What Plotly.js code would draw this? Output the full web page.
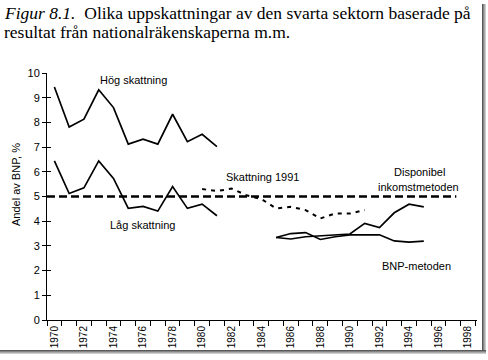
<!DOCTYPE html>
<html>
<head>
<meta charset="utf-8">
<script src="https://cdn.plot.ly/plotly-3.0.1.min.js"></script>
<style>
html,body{margin:0;padding:0;background:#fff;}
#wrap{position:relative;width:488px;height:360px;overflow:hidden;}
#chart{position:absolute;left:0;top:0;width:488px;height:360px;}
#bR{position:absolute;left:482px;top:4px;width:4px;height:350px;background:linear-gradient(to right,#444,#999,#ddd);}
#bB{position:absolute;left:0;top:350px;width:486px;height:4px;background:linear-gradient(to bottom,#444,#999,#ddd);}
</style>
</head>
<body>
<div id="wrap"><div id="chart"></div><div id="bR"></div><div id="bB"></div></div>
<script>
// Data
var yearsHigh = [1970,1971,1972,1973,1974,1975,1976,1977,1978,1979,1980,1981];
var hogSkattning = [9.43,7.81,8.13,9.32,8.6,7.12,7.32,7.12,8.33,7.22,7.52,7.02];
var lagSkattning = [6.44,5.12,5.35,6.44,5.73,4.52,4.6,4.41,5.4,4.52,4.69,4.22];
var years1991 = [1980,1981,1982,1983,1984,1985,1986,1987,1988,1989,1990,1991];
var skattning1991 = [5.3,5.22,5.32,5.05,4.9,4.52,4.58,4.45,4.11,4.31,4.31,4.45];
var dispYears = [1969.5,1997.2];
var dispValues = [5.0,5.0];
var bnpYears = [1985,1986,1987,1988,1989,1990,1991,1992,1993,1994,1995];
var bnpA = [3.34,3.28,3.37,3.4,3.46,3.48,3.91,3.74,4.34,4.69,4.58];
var bnpB = [3.34,3.5,3.54,3.26,3.37,3.45,3.45,3.45,3.2,3.15,3.19];
var xTickVals = [1970,1972,1974,1976,1978,1980,1982,1984,1986,1988,1990,1992,1994,1996,1998];
var xTickText = xTickVals.map(String);

var sans = 'Liberation Sans, Arial, sans-serif';
var serif = 'Liberation Serif, Times New Roman, serif';
var solid = {color:'#000', width:1.7};
var traces = [
  {x:yearsHigh, y:hogSkattning, mode:'lines', line:solid},
  {x:yearsHigh, y:lagSkattning, mode:'lines', line:solid},
  {x:years1991, y:skattning1991, mode:'lines', line:{color:'#000', width:2, dash:'4px,5px'}},
  {x:dispYears, y:dispValues, mode:'lines', line:{color:'#000', width:2.5, dash:'8px,4px'}},
  {x:bnpYears, y:bnpA, mode:'lines', line:solid},
  {x:bnpYears, y:bnpB, mode:'lines', line:solid},
  {x:[1970], y:[0], yaxis:'y2', mode:'markers', marker:{opacity:0}, hoverinfo:'skip'}
];

var L = 47, R = 11, T = 73, B = 40;
var pw = 488 - L - R, ph = 360 - T - B;
function px(x){return (x - L)/pw;}
function py(y){return (360 - B - y)/ph;}

var ann = function(text, x, y, extra){
  return Object.assign({text:text, xref:'paper', yref:'paper', x:px(x), y:py(y), showarrow:false,
    xanchor:'center', yanchor:'middle', font:{family:sans, size:11, color:'#000'}}, extra||{});
};

var layout = {
  width:488, height:360,
  margin:{l:L, r:R, t:T, b:B},
  paper_bgcolor:'#fff', plot_bgcolor:'#fff',
  showlegend:false,
  xaxis:{range:[1969.5,1998.6], tickmode:'array', tickvals:xTickVals, ticktext:xTickText,
    tickangle:-90, ticks:'', ticklabelstandoff:1, showgrid:false, zeroline:false, showline:true, linecolor:'#000', linewidth:1,
    tickfont:{family:sans, size:10, color:'#000'},
    minor:{tickmode:'linear', tick0:1969.5, dtick:1, ticks:'outside', ticklen:5, tickcolor:'#000', tickwidth:1, showgrid:false}},
  yaxis:{range:[0,10], dtick:1, ticks:'outside', ticklen:4, tickcolor:'#000', showgrid:false, zeroline:false,
    showline:true, linecolor:'#000', linewidth:1, tickfont:{family:sans, size:11, color:'#000'}},
  yaxis2:{range:[0,10], dtick:1, overlaying:'y', side:'left', ticks:'inside', ticklen:4, tickcolor:'#000',
    showticklabels:false, showgrid:false, zeroline:false, showline:false},
  annotations:[
    {text:'<i>Figur 8.1.</i>  Olika uppskattningar av den svarta sektorn baserade på',
      xref:'paper', yref:'paper', x:px(2), y:py(13), xanchor:'left', yanchor:'middle', align:'left', showarrow:false,
      font:{family:serif, size:17.5, color:'#000'}},
    {text:'resultat från nationalräkenskaperna m.m.',
      xref:'paper', yref:'paper', x:px(2), y:py(32), xanchor:'left', yanchor:'middle', align:'left', showarrow:false,
      font:{family:serif, size:17.5, color:'#000'}},
    ann('Andel av BNP, %', 16, 184, {textangle:-90}),
    ann('Hög skattning', 133, 80),
    ann('Låg skattning', 142, 225),
    ann('Skattning 1991', 262, 177),
    ann('Disponibel', 419, 172),
    ann('inkomstmetoden', 418, 187),
    ann('BNP-metoden', 416, 266)
  ]
};
Plotly.newPlot('chart', traces, layout, {staticPlot:true, displayModeBar:false});
</script>
</body>
</html>
